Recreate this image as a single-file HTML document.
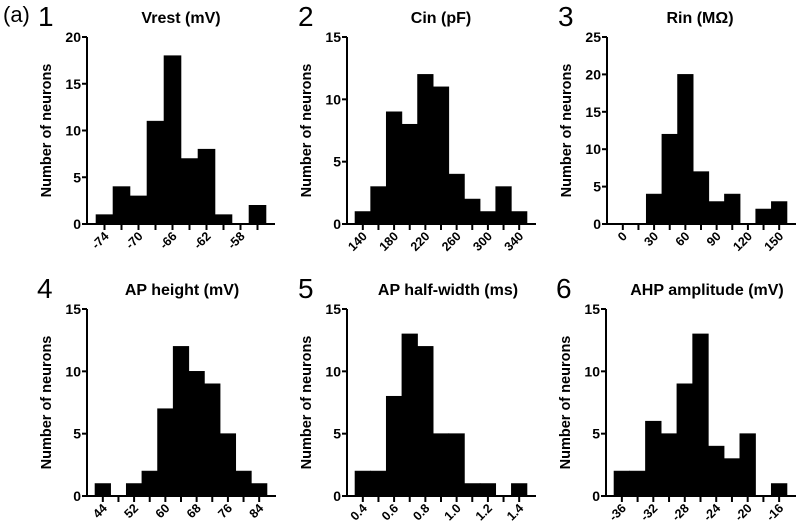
<!DOCTYPE html>
<html><head><meta charset="utf-8"><style>
body{margin:0;background:#fff;}
svg{display:block;font-family:"Liberation Sans",Arial,sans-serif;}
</style></head><body>
<svg id="c" width="797" height="528">
<text x="3" y="22" font-size="22">(a)</text>
</svg>
<script>
const vrestCenters=[-74,-72,-70,-68,-66,-64,-62,-60,-58,-56];
const vrestCounts=[1,4,3,11,18,7,8,1,0,2];
const vrestTicks=[-74,-70,-66,-62,-58];
const cinCenters=[140,160,180,200,220,240,260,280,300,320,340];
const cinCounts=[1,3,9,8,12,11,4,2,1,3,1];
const cinTicks=[140,180,220,260,300,340];
const rinCenters=[0,15,30,45,60,75,90,105,120,135,150];
const rinCounts=[0,0,4,12,20,7,3,4,0,2,3];
const rinTicks=[0,30,60,90,120,150];
const apHCenters=[44,48,52,56,60,64,68,72,76,80,84];
const apHCounts=[1,0,1,2,7,12,10,9,5,2,1];
const apHTicks=[44,52,60,68,76,84];
const apWCenters=[0.4,0.5,0.6,0.7,0.8,0.9,1.0,1.1,1.2,1.3,1.4];
const apWCounts=[2,2,8,13,12,5,5,1,1,0,1];
const apWTicks=["0.4","0.6","0.8","1.0","1.2","1.4"];
const ahpCenters=[-36,-34,-32,-30,-28,-26,-24,-22,-20,-18,-16];
const ahpCounts=[2,2,6,5,9,13,4,3,5,0,1];
const ahpTicks=[-36,-32,-28,-24,-20,-16];
const yTicks1=[0,5,10,15,20];
const yTicks2=[0,5,10,15];
const yTicks3=[0,5,10,15,20,25];

const svg=document.getElementById('c');
const NS='http://www.w3.org/2000/svg';
function mk(tag,attrs,parent){const e=document.createElementNS(NS,tag);for(const k in attrs)e.setAttribute(k,attrs[k]);(parent||svg).appendChild(e);return e;}

function panel(p){
  const g=mk('g',{});
  
  
  const n=p.centers.length;
  const step=p.centers[1]-p.centers[0];
  const bw=(p.x1-p.x0)/n;
  const xs=v=>p.x0+((v-p.centers[0])/step+0.5)*bw;
  const ymax=p.yTicks[p.yTicks.length-1];
  const ys=v=>p.yb-(v/ymax)*(p.yb-p.yt);
  for(let i=0;i<n;i++){
    if(p.counts[i]<=0) continue;
    const b=mk('rect',{x:xs(p.centers[i])-bw/2,y:ys(p.counts[i]),width:bw,height:ys(0)-ys(p.counts[i]),fill:'#000',stroke:'#000','stroke-width':0.6},g);
    
    
  }
  const ya=mk('line',{x1:p.ax,y1:p.yt,x2:p.ax,y2:p.yb+1,stroke:'#000','stroke-width':2},g);
  
  
  const xa=mk('line',{x1:p.ax-1,y1:p.yb,x2:p.x1+9,y2:p.yb,stroke:'#000','stroke-width':2},g);
  
  
  p.yTicks.forEach(t=>{
    const y=ys(t);
    mk('line',{x1:p.ax-5,y1:y,x2:p.ax,y2:y,stroke:'#000','stroke-width':2},g);
    const tx=mk('text',{x:p.ax-6,y:y+5,'font-size':14,'font-weight':'bold','text-anchor':'end'},g);
    tx.textContent=t;
    
    
  });
  p.centers.forEach(c=>{
    const x=xs(c);
    mk('line',{x1:x,y1:p.yb,x2:x,y2:p.yb+6,stroke:'#000','stroke-width':2},g);
  });
  p.ticks.forEach(t=>{
    const x=xs(parseFloat(t));
    const tx=mk('text',{x:x+5,y:p.yb+13,'font-size':12.5,'font-weight':'bold','text-anchor':'end',transform:`rotate(-45 ${x+5} ${p.yb+13})`},g);
    tx.textContent=String(t);
    
    
  });
  const yl=mk('text',{x:0,y:0,'font-size':14.5,'font-weight':'bold','text-anchor':'middle',transform:`translate(${p.ax-36},${(p.yt+p.yb)/2}) rotate(-90)`},g);
  yl.textContent='Number of neurons';
  
  
  const ti=mk('text',{x:p.tx,y:p.yt-14,'font-size':16,'font-weight':'bold','text-anchor':'middle'},g);
  ti.textContent=p.title;
  
  
  const num=mk('text',{x:p.nx,y:p.yt-11,'font-size':28},g);
  num.textContent=p.num;
  
  
}
panel({name:'vrest-panel',centers:vrestCenters,counts:vrestCounts,ticks:vrestTicks,yTicks:yTicks1,ax:87,x0:96,x1:266,yt:37,yb:224,title:'Vrest (mV)',tx:181,num:'1',nx:38});
panel({name:'cin-panel',centers:cinCenters,counts:cinCounts,ticks:cinTicks,yTicks:yTicks2,ax:347,x0:355,x1:527,yt:37,yb:224,title:'Cin (pF)',tx:441,num:'2',nx:298});
panel({name:'rin-panel',centers:rinCenters,counts:rinCounts,ticks:rinTicks,yTicks:yTicks3,ax:607,x0:615,x1:787,yt:37,yb:224,title:'Rin (MΩ)',tx:700,num:'3',nx:558});
panel({name:'ap-height-panel',centers:apHCenters,counts:apHCounts,ticks:apHTicks,yTicks:yTicks2,ax:87,x0:95,x1:267,yt:309,yb:496,title:'AP height (mV)',tx:182,num:'4',nx:37});
panel({name:'ap-halfwidth-panel',centers:apWCenters,counts:apWCounts,ticks:apWTicks,yTicks:yTicks2,ax:347,x0:355,x1:527,yt:309,yb:496,title:'AP half-width (ms)',tx:448,num:'5',nx:298});
panel({name:'ahp-panel',centers:ahpCenters,counts:ahpCounts,ticks:ahpTicks,yTicks:yTicks2,ax:606,x0:614,x1:787,yt:309,yb:496,title:'AHP amplitude (mV)',tx:707,num:'6',nx:556});
</script>
</body></html>
